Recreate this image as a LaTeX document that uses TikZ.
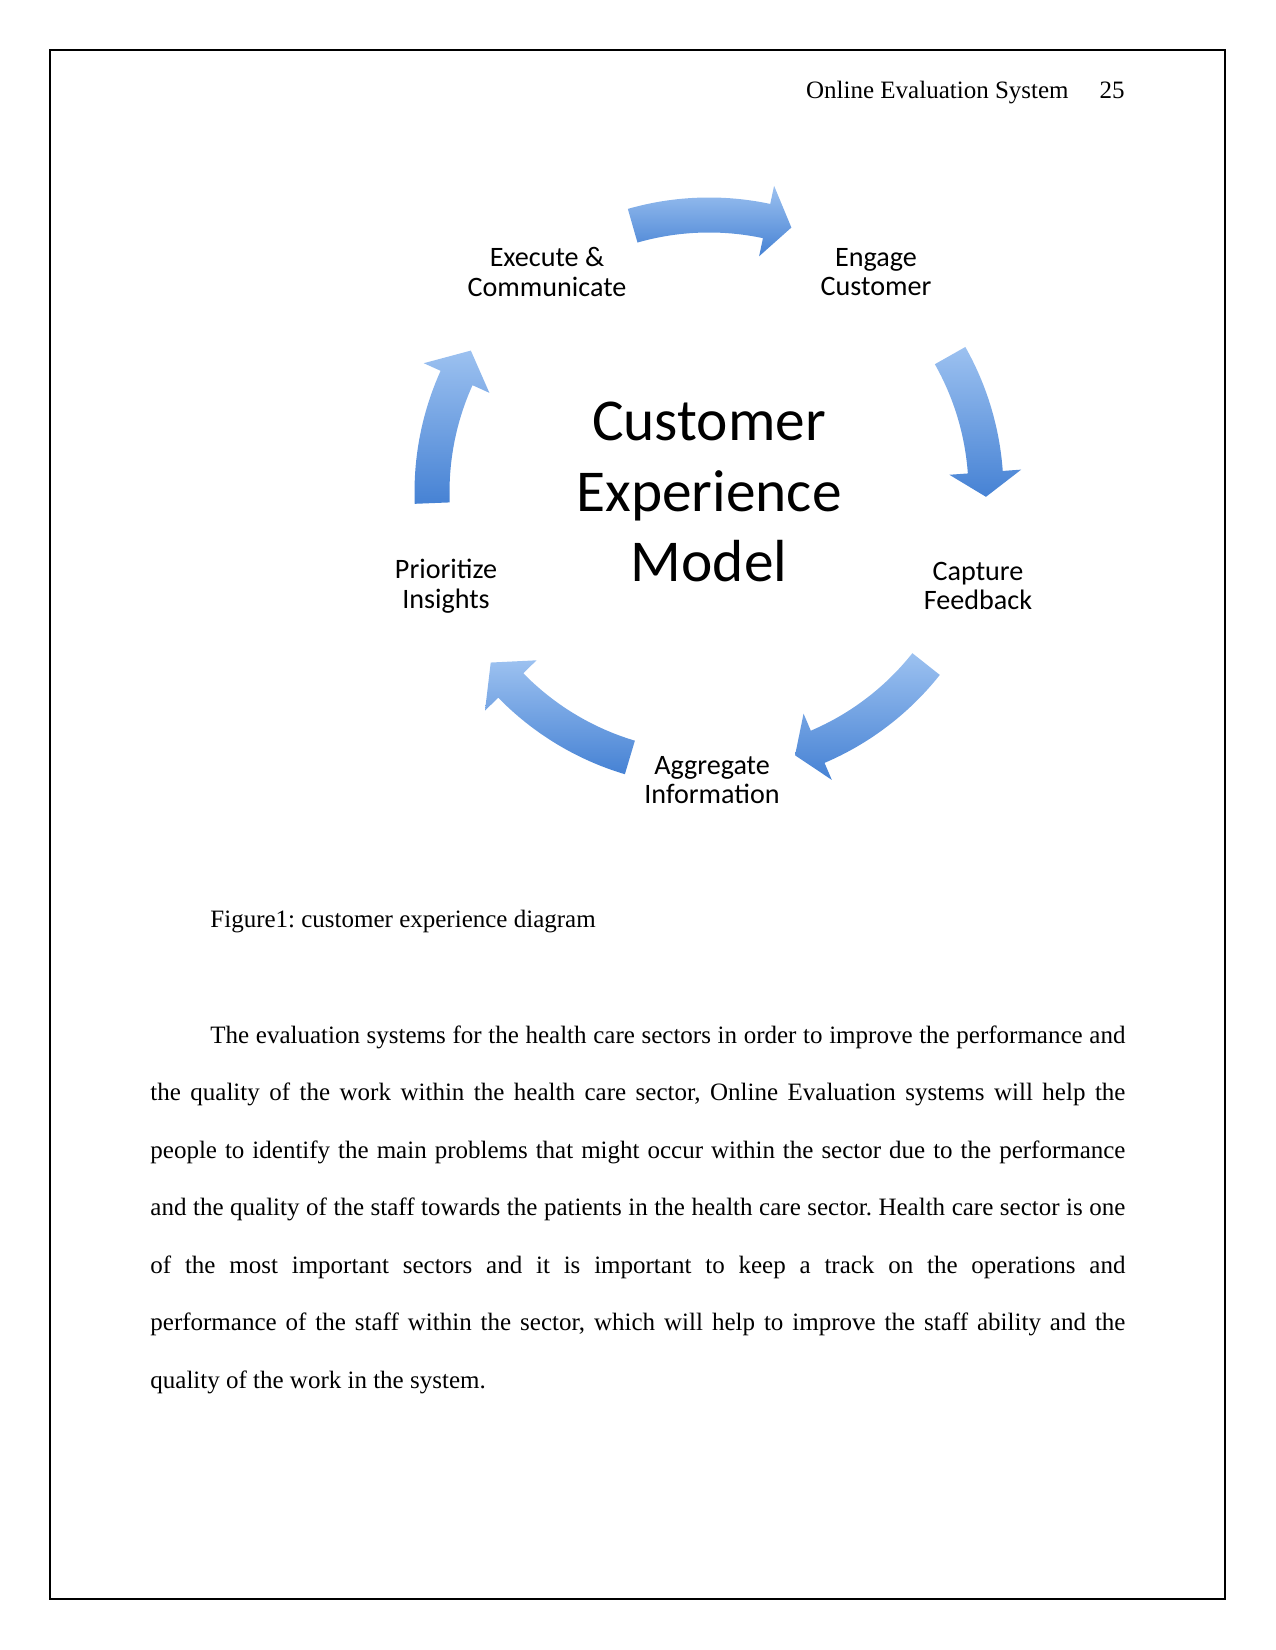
\documentclass[tikz,border=0pt]{standalone}
\usepackage{fontspec}
\setmainfont{Liberation Serif}
\newfontfamily\smartfont{Carlito}
\usetikzlibrary{calc}
\frenchspacing
\definecolor{arrowlight}{RGB}{156,193,240}
\definecolor{arrowdark}{RGB}{70,130,212}
\newcommand{\cyclearrow}[3]{%
  \shade[cycarrow] ($(hub)+(#1:259.5)$) arc[start angle=#1, end angle=#2, radius=259.5]
    -- ($(hub)+(#2:241)$) -- ($(hub)+(#3:277)$) -- ($(hub)+(#2:313)$)
    -- ($(hub)+(#2:294.5)$) arc[start angle=#2, end angle=#1, radius=294.5] -- cycle;}

\begin{document}
\begin{tikzpicture}[x=0.48pt, y=0.48pt,
  every node/.style={inner sep=0pt},
  serif/.style={font=\fontsize{12}{13.8}\selectfont},
  stagetxt/.style={font=\smartfont\fontsize{13.5}{14.2}\selectfont, align=center},
  model/.style={font=\smartfont\fontsize{28.5}{34}\selectfont, align=center},
  cycarrow/.style={top color=arrowlight, bottom color=arrowdark, draw=none},
  bodytext/.style={font=\fontsize{12}{27.6}\selectfont, text width=468pt,
    align=justify}
]
\useasboundingbox (0,0) rectangle (1275,-1650);
\draw[line width=0.6pt] (50,-50) rectangle (1225,-1599);
\node[serif, anchor=base east] (runhead) at (1069,-99) {Online Evaluation System};
\node[serif, anchor=base east] (pageno) at (1125,-99) {25};
\coordinate (hub) at (709,-492);
\node[model] (model) at (hub) {Customer\\Experience\\Model};
\node[stagetxt] (execute) at (547,-272) {Execute \&\\Communicate};
\node[stagetxt] (engage) at (876,-272) {Engage\\Customer};
\node[stagetxt] (capture) at (978,-586) {Capture\\Feedback};
\node[stagetxt] (aggregate) at (712,-780) {Aggregate\\Information};
\node[stagetxt] (prioritize) at (446,-586) {Prioritize\\Insights};
\cyclearrow{106}{78}{72.7}
\cyclearrow{29.5}{4.1}{-1}
\cyclearrow{-38.4}{-66.9}{-71.9}
\cyclearrow{-106.6}{-135.7}{-142}
\cyclearrow{182.3}{155.7}{149.3}
\node[serif, anchor=base west] (caption) at (210,-927)
  {Figure1: customer experience diagram};
\node[bodytext, anchor=north west] (para) at (150,-1025) {\noindent\hspace*{28.8pt}The
  evaluation systems for the health care sectors in order to improve the
  performance and\linebreak the quality of the work within the health care
  sector, Online Evaluation systems will help the\linebreak people to identify
  the main problems that might occur within the sector due to the
  performance\linebreak and the quality of the staff towards the patients in
  the health care sector. Health care sector is one\linebreak of the most
  important sectors and it is important to keep a track on the operations
  and\linebreak performance of the staff within the sector, which will help to
  improve the staff ability and the\linebreak quality of the work in the
  system.};
\end{tikzpicture}
\end{document}
